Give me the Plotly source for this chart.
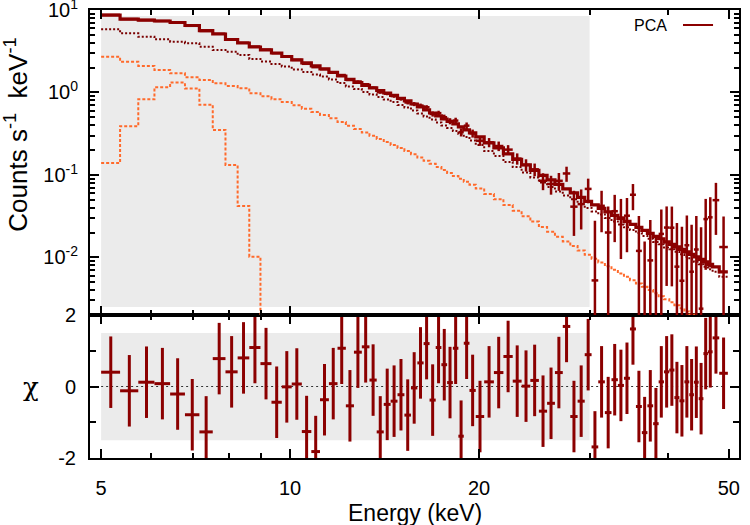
import math
import plotly.graph_objects as go

# ---------------- data ----------------
# spectral bin edges (keV)
edges = [5.00, 5.36, 5.73, 6.08, 6.44, 6.80, 7.17, 7.53, 7.89, 8.25, 8.61, 8.97, 9.34, 9.70,
         10.06, 10.44, 10.81, 11.16, 11.53, 11.90, 12.27, 12.64, 13.01, 13.38, 13.74, 14.10,
         14.46, 14.83, 15.21, 15.58, 15.95, 16.32, 16.68, 17.06, 17.42, 17.79, 18.17, 18.54,
         18.91, 19.31, 19.76, 20.38, 21.12, 21.87, 22.63, 23.38, 24.14, 24.91, 25.67, 26.42,
         27.19, 27.95, 28.71, 29.47, 30.22, 30.97, 31.73, 32.51, 33.28, 34.03, 34.79, 35.56,
         36.34, 37.09, 37.88, 38.65, 39.41, 40.19, 40.95, 41.71, 42.48, 43.25, 43.99, 44.77,
         45.55, 46.31, 47.11, 48.27, 49.82]

# total model (counts s^-1 keV^-1)
model = [8.70, 7.78, 7.56, 7.36, 7.06, 6.49, 5.64, 5.12, 4.39, 3.98,
         3.56, 3.28, 3.01, 2.73, 2.48, 2.28, 2.10, 1.93, 1.75, 1.585,
         1.438, 1.322, 1.216, 1.134, 1.057, 0.986, 0.920, 0.846, 0.789, 0.725,
         0.667, 0.614, 0.564, 0.519, 0.477, 0.445, 0.415, 0.382, 0.351, 0.323,
         0.289, 0.244, 0.2125, 0.180, 0.154, 0.132, 0.1134, 0.0986, 0.0870, 0.0767,
         0.0677, 0.0605, 0.0534, 0.0477, 0.0433, 0.0393, 0.0356, 0.0323, 0.0297, 0.0273,
         0.0251, 0.0231, 0.0212, 0.0195, 0.0180, 0.0168, 0.0154, 0.0144, 0.0134, 0.0125,
         0.01166, 0.01087, 0.01014, 0.00946, 0.00882, 0.00823, 0.00767, 0.00667]

# main continuum component (dark red dotted)
comp_main = [5.84, 5.22, 4.75, 4.41, 4.13, 3.95, 3.59, 3.28, 3.12, 2.85,
             2.55, 2.38, 2.22, 2.07, 1.90, 1.77, 1.65, 1.56, 1.44, 1.30,
             1.18, 1.10, 1.014, 0.946, 0.882, 0.823, 0.767, 0.706, 0.658, 0.605,
             0.556, 0.512, 0.471, 0.433, 0.398, 0.371, 0.341, 0.314, 0.289, 0.262,
             0.231, 0.195, 0.170, 0.1438, 0.125, 0.1072, 0.0933, 0.0811, 0.0715, 0.0631,
             0.0564, 0.0505, 0.0445, 0.0398, 0.0361, 0.0332, 0.0301, 0.0273, 0.0251, 0.0231,
             0.0215, 0.0198, 0.0182, 0.0168, 0.0154, 0.0144, 0.0132, 0.0125, 0.01166, 0.01087,
             0.01014, 0.00946, 0.00882, 0.00823, 0.00767, 0.00715, 0.00667, 0.00580]

# second continuum component (orange dotted)
comp_soft = [2.72, 2.36, 2.10, 1.87, 1.71, 1.53, 1.42, 1.29, 1.20, 1.124,
             0.978, 0.899, 0.827, 0.765, 0.700, 0.635, 0.580, 0.534, 0.486, 0.438,
             0.395, 0.360, 0.3265, 0.2986, 0.2731, 0.2505, 0.2310, 0.2119, 0.1954, 0.1782,
             0.1625, 0.1486, 0.1363, 0.1247, 0.1150, 0.1057, 0.0972, 0.0897, 0.0825, 0.0759,
             0.0684, 0.0587, 0.0508, 0.0430, 0.0368, 0.0316, 0.0272, 0.0234, 0.0205, 0.0178,
             0.01559, 0.01374, 0.01213, 0.01072, 0.00964, 0.00868, 0.00780, 0.00706, 0.00638, 0.00580,
             0.00528, 0.00480, 0.00439, 0.00401, 0.00367, 0.00338, 0.00310, 0.00285, 0.00263, 0.00242,
             0.00221, 0.00203, 0.00187, 0.00171, 0.00158, 0.00146, 0.00134, 0.00116]

# iron line component (orange dotted), first bins only
comp_line = [0.139, 0.39, 0.826, 1.16, 1.32, 1.12, 0.71, 0.35, 0.132, 0.042, 0.0102, 0.0015]

# residuals (chi) per bin
chi = [0.40, -0.12, 0.12, 0.08, -0.21, -0.79, -1.27, 0.78, 0.41, 0.80,
       1.09, 0.64, -0.44, -0.01, 0.07, -1.26, -1.82, -0.37, 0.08, 1.07,
       -0.54, 0.96, 1.11, 0.18, -1.27, -0.50, -0.41, -0.23, -0.80, -0.04,
       0.66, 1.20, -0.38, 1.09, 0.61, 0.11, 1.07, -1.39, 1.21, -0.11,
       -0.84, 0.13, 0.39, 0.84, 0.15, 0.01, 0.17, -0.69, -0.47, 0.39,
       1.68, -0.84, -0.41, 0.89, -1.69, 0.13, -0.73, 0.19, 0.03, 0.23,
       1.61, -0.56, -1.29, -0.54, -1.04, 0.13, 0.41, 0.46, -0.31, -0.40,
       0.13, -0.23, 0.12, -0.34, 0.92, 0.97, 1.36, 0.37]

# fractional 1-sigma error of each bin (error / model)
rel_err = [0.008, 0.008, 0.009, 0.009, 0.009, 0.010, 0.010, 0.011, 0.011, 0.012,
           0.013, 0.014, 0.015, 0.016, 0.017, 0.018, 0.019, 0.021, 0.023, 0.025,
           0.027, 0.029, 0.032, 0.035, 0.038, 0.041, 0.044, 0.048, 0.052, 0.056,
           0.060, 0.065, 0.070, 0.075, 0.080, 0.086, 0.092, 0.098, 0.105, 0.110,
           0.12, 0.13, 0.14, 0.15, 0.16, 0.17, 0.18, 0.20, 0.23, 0.27,
           0.32, 0.38, 0.42, 0.47, 0.52, 0.56, 0.60, 0.65, 0.70, 0.75,
           0.80, 0.86, 0.92, 0.98, 1.05, 1.12, 1.20, 1.28, 1.37, 1.46,
           1.56, 1.67, 1.90, 2.20, 2.50, 2.80, 4.00, 2.70]

fit_range = [5.0, 30.0]
x_tickvals = [5, 10, 20, 50]
x_ticktext = ["5", "10", "20", "50"]
x_minor = [6, 7, 8, 9, 30, 40]
y_tickvals = [0.002, 0.01, 0.1, 1, 10]
y_ticktext = ["", "10<sup>-2</sup>", "10<sup>-1</sup>", "10<sup>0</sup>", "10<sup>1</sup>"]
chi_tickvals = [-2, 0, 2]
chi_ticktext = ["-2", "0", "2"]
chi_minor = [-1, 1]
legend_label = "PCA"

# ---------------- derived quantities ----------------
lo = edges[:-1]
hi = edges[1:]
centers = [(a + b) / 2 for a, b in zip(lo, hi)]
err = [m * r for m, r in zip(model, rel_err)]
data = [m + c * e for m, c, e in zip(model, chi, err)]

DARK = "#8b0000"
DARK_DOT = "#7a0000"
ORANGE = "#ff6a2b"
FONT = "Liberation Sans, Arial, Helvetica, sans-serif"


def step(vals, edge_list):
    return list(edge_list[:len(vals) + 1]), list(vals) + [vals[-1]]


fig = go.Figure()

# model components (top panel, x2/y2)
for vals, col, dash in [(comp_soft, ORANGE, "3px,2px"),
                        (comp_line, ORANGE, "3px,2px"),
                        (comp_main, DARK_DOT, "2px,2px")]:
    sx, sy = step(vals, edges)
    fig.add_trace(go.Scatter(x=sx, y=sy, mode="lines", line_shape="hv",
                             line=dict(color=col, width=2, dash=dash),
                             xaxis="x2", yaxis="y2", hoverinfo="skip", showlegend=False))

sx, sy = step(model, edges)
fig.add_trace(go.Scatter(x=sx, y=sy, mode="lines", line_shape="hv",
                         line=dict(color=DARK, width=3.2),
                         xaxis="x2", yaxis="y2", hoverinfo="skip", showlegend=False))

# data crosses (top panel)
vx, vy, hx, hy = [], [], [], []
for c, a, b, d, e in zip(centers, lo, hi, data, err):
    top = d + e
    if top <= 0:
        continue
    bot = d - e if d - e > 0 else 1e-6
    vx += [c, c, None]
    vy += [bot, top, None]
    if d > 0:
        hx += [a, b, None]
        hy += [d, d, None]
fig.add_trace(go.Scatter(x=vx, y=vy, mode="lines", line=dict(color=DARK, width=2.5),
                         xaxis="x2", yaxis="y2", hoverinfo="skip", showlegend=False))
fig.add_trace(go.Scatter(x=hx, y=hy, mode="lines", line=dict(color=DARK, width=2.5),
                         xaxis="x2", yaxis="y2", hoverinfo="skip", showlegend=False))

# residual crosses (bottom panel)
rvx, rvy, rhx, rhy = [], [], [], []
for c, a, b, r in zip(centers, lo, hi, chi):
    rvx += [c, c, None]
    rvy += [r - 1, r + 1, None]
    rhx += [a, b, None]
    rhy += [r, r, None]
fig.add_trace(go.Scatter(x=rvx, y=rvy, mode="lines", line=dict(color=DARK, width=3),
                         xaxis="x", yaxis="y", hoverinfo="skip", showlegend=False))
fig.add_trace(go.Scatter(x=rhx, y=rhy, mode="lines", line=dict(color=DARK, width=3),
                         xaxis="x", yaxis="y", hoverinfo="skip", showlegend=False))

# ---------------- layout ----------------
x_range = [math.log10(4.80), math.log10(51.9)]
split = 143 / 448

axis_common = dict(showline=True, linecolor="black", linewidth=2, mirror="ticks",
                   ticks="inside", tickcolor="black", tickwidth=2, ticklen=9,
                   showgrid=False, zeroline=False, automargin=False,
                   ticklabeloverflow="allow",
                   tickfont=dict(family=FONT, size=20, color="black"))

y_minor = [m * 10 ** k for k in (-3, -2, -1, 0) for m in range(2, 10)
           if 0.0025 < m * 10 ** k < 10]

fig.update_layout(
    width=750, height=525,
    margin=dict(l=90, r=11, t=10, b=67, autoexpand=False),
    plot_bgcolor="white", paper_bgcolor="white",
    font=dict(family=FONT, color="black"),
    showlegend=False,
    xaxis=dict(type="log", range=x_range, domain=[0, 1], anchor="y",
               tickvals=x_tickvals, ticktext=x_ticktext, ticklabelstandoff=11,
               minor=dict(tickvals=x_minor, ticks="inside", ticklen=5, tickwidth=2, tickcolor="black"),
               **axis_common),
    xaxis2=dict(type="log", range=x_range, domain=[0, 1], anchor="y2", matches="x",
                tickvals=x_tickvals, showticklabels=False,
                minor=dict(tickvals=x_minor, ticks="inside", ticklen=5, tickwidth=2, tickcolor="black"),
                **axis_common),
    yaxis=dict(range=[-2, 2], domain=[0, split], anchor="x",
               tickvals=chi_tickvals, ticktext=chi_ticktext, ticklabelstandoff=8,
               minor=dict(tickvals=chi_minor, ticks="inside", ticklen=6, tickwidth=2, tickcolor="black"),
               **axis_common),
    yaxis2=dict(type="log", range=[math.log10(0.002) - 0.0005, 1.0005], domain=[split, 1], anchor="x2",
                tickvals=y_tickvals, ticktext=y_ticktext, ticklabelstandoff=6,
                minor=dict(tickvals=y_minor, ticks="inside", ticklen=5, tickwidth=2, tickcolor="black"),
                **axis_common),
)

# fit-range shading and zero line
fig.add_shape(type="rect", xref="x2", yref="y2 domain", x0=fit_range[0], x1=fit_range[1],
              y0=0.026, y1=0.980, fillcolor="#ebebeb", line=dict(width=0), layer="below")
fig.add_shape(type="rect", xref="x", yref="y", x0=fit_range[0], x1=fit_range[1],
              y0=-1.5, y1=1.5, fillcolor="#ebebeb", line=dict(width=0), layer="below")
fig.add_shape(type="line", xref="x", yref="y", x0=edges[0], x1=edges[-1] * 0.98, y0=0, y1=0,
              line=dict(color="#333333", width=1, dash="2px,3px"), layer="below")

# legend (text + line sample)
fig.add_annotation(text=legend_label, xref="paper", yref="paper", x=0.8644, y=0.9665,
                   xanchor="center", yanchor="middle", showarrow=False,
                   font=dict(family=FONT, size=16, color="black"))
fig.add_shape(type="line", xref="paper", yref="paper", x0=0.9137, x1=0.960, y0=0.9665, y1=0.9665,
              line=dict(color=DARK, width=2))

# axis titles
fig.add_annotation(text="Energy (keV)", xref="paper", yref="paper", x=0.5, y=-0.123,
                   xanchor="center", yanchor="middle", showarrow=False,
                   font=dict(family=FONT, size=23, color="black"))
fig.add_annotation(text="Counts s<sup>-1</sup>  keV<sup>-1</sup>", xref="paper", yref="paper",
                   x=-0.113, y=0.721, textangle=-90, xanchor="center", yanchor="middle",
                   showarrow=False, font=dict(family=FONT, size=26, color="black"))
fig.add_annotation(text="χ", xref="paper", yref="paper", x=-0.091, y=0.1585,
                   xanchor="center", yanchor="middle", showarrow=False,
                   font=dict(family="DejaVu Serif, serif", size=26, color="black"))

fig.write_html("out.html", config={"displayModeBar": False},
               post_script="document.body.style.margin='0';")
